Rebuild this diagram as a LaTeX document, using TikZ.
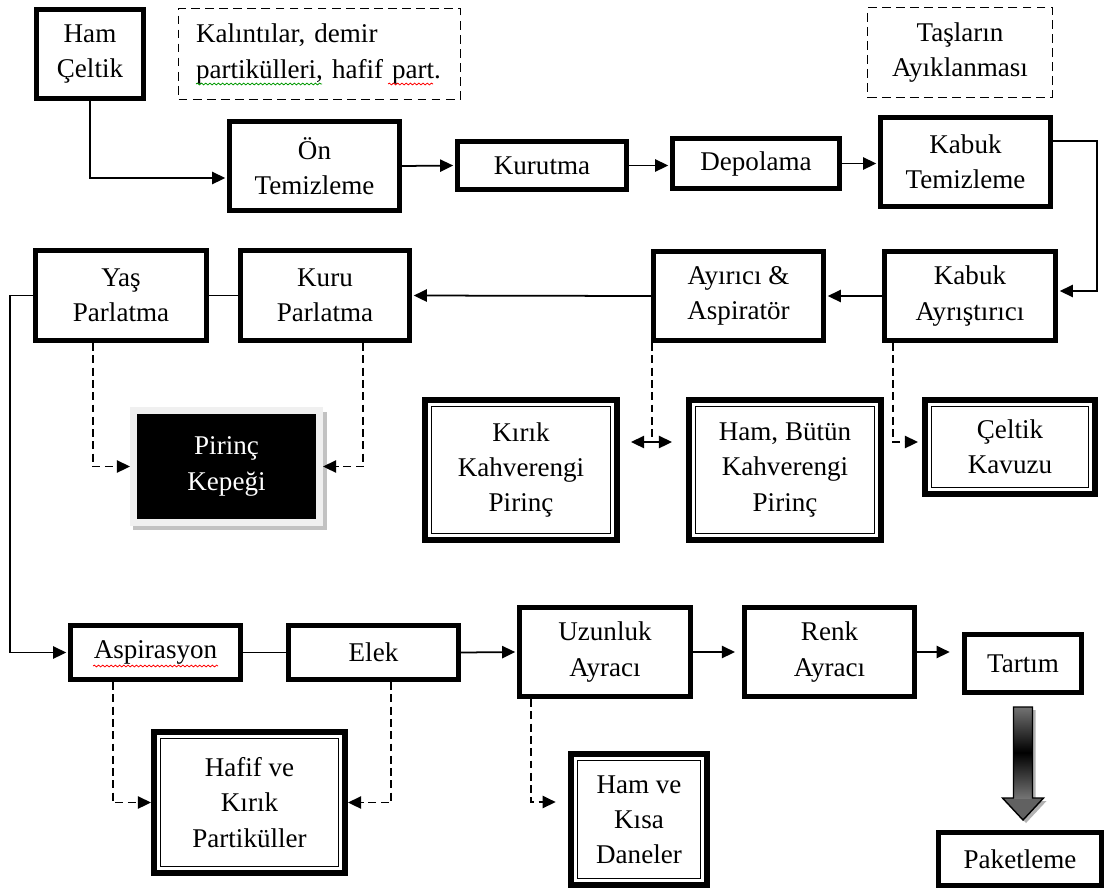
\documentclass[tikz,border=0pt]{standalone}
\usepackage{fontspec}
\setmainfont{Liberation Serif}
\usetikzlibrary{arrows.meta,calc,decorations.pathmorphing,backgrounds}

% body text size of the flow chart
\newcommand\fs{\fontsize{15.4}{20}\selectfont}

% \flowbox[line width]{name}{x1}{y1}{x2}{y2}{style}{text}
% places a node whose outer border edges are at the given pixel corners
\newcommand\flowbox[8][3pt]{%
  \node[#7, minimum width={(#5-#3)*0.02cm-#1}, minimum height={(#6-#4)*0.02cm-#1}]
    (#2) at ({(#3+#5)/2},{(#4+#6)/2}) {#8};}

\tikzset{
  base/.style={draw, inner sep=0pt, align=center, font=\fs},
  sbox/.style={base, line width=3pt},
  dbox/.style={base, line width=3.4pt},
  nbox/.style={draw, dash pattern=on 5pt off 3pt, line width=0.8pt, inner sep=0pt, font=\fs},
  tip/.style={-{Triangle[length=7.5pt,width=7pt]}},
  link/.style={line width=1pt},
  conn/.style={link, tip, shorten >=1pt},
  dline/.style={link, dash pattern=on 4.5pt off 2.5pt},
  dconn/.style={dline, tip},
  squig/.style={decorate, decoration={snake, amplitude=0.5pt, segment length=2.4pt}, line width=0.45pt},
}

\begin{document}
\begin{tikzpicture}[x=0.02cm, y=-0.02cm]
\useasboundingbox (0,0) rectangle (1108,890);

% ---- first row ----
\flowbox{hamc}{34}{7}{146}{101}{sbox}{Ham\\Çeltik}
\flowbox[0.8pt]{kal}{178}{8}{461}{100}{nbox, align=left, text width={(461-178-36)*0.02cm}}{Kalıntılar, demir\\partikülleri, hafif part.}
\flowbox[0.8pt]{tas}{867}{7}{1053}{98}{nbox, align=center}{Taşların\\Ayıklanması}
\flowbox{onT}{227}{119}{402}{213}{sbox}{Ön\\Temizleme}
\flowbox{kur}{455}{139}{629}{192}{sbox}{Kurutma}
\flowbox{dep}{670}{136}{842}{191}{sbox}{Depolama}
\flowbox{kt}{878}{115}{1053}{209}{sbox}{Kabuk\\Temizleme}

% ---- second row ----
\flowbox{yp}{33}{248}{209}{343}{sbox}{Yaş\\Parlatma}
\flowbox{kp}{238}{248}{412}{343}{sbox}{Kuru\\Parlatma}
\flowbox{ay}{651}{249}{826}{343}{sbox}{Ayırıcı \&\\Aspiratör}
\flowbox{ka}{882}{249}{1058}{343}{sbox}{Kabuk\\Ayrıştırıcı}

% ---- by-products of the second row ----
\flowbox[4pt]{pk}{130}{407}{323}{526}{base, fill=black, draw=black!6, line width=4pt, text=white}{Pirinç\\Kepeği}
\flowbox[3.4pt]{kirik}{422}{397}{620}{543}{dbox}{Kırık\\Kahverengi\\Pirinç}
\flowbox[3.4pt]{hb}{686}{397}{884}{543}{dbox}{Ham, Bütün\\Kahverengi\\Pirinç}
\flowbox[3.4pt]{ck}{922}{397}{1098}{497}{dbox}{Çeltik\\Kavuzu}

% ---- third row ----
\flowbox{asp}{68}{623}{243}{682}{sbox}{Aspirasyon}
\flowbox{elek}{286}{623}{461}{682}{sbox}{Elek}
\flowbox{uz}{517}{605}{693}{699}{sbox}{Uzunluk\\Ayracı}
\flowbox{renk}{742}{605}{917}{699}{sbox}{Renk\\Ayracı}
\flowbox{tar}{962}{632}{1084}{695}{sbox}{Tartım}

% ---- by-products of the third row ----
\flowbox[3.4pt]{hafif}{151}{729}{348}{876}{dbox}{Hafif ve\\Kırık\\Partiküller}
\flowbox[3.4pt]{hk}{568}{751}{710}{888}{dbox}{Ham ve\\Kısa\\Daneler}
\flowbox{pak}{936}{830}{1104}{888}{sbox}{Paketleme}

% inner thin rule of the double-framed boxes
\foreach \n in {kirik,hb,ck,hafif,hk}
  \draw[line width=0.75pt] ($(\n.north west)+(9.5,9.5)$) rectangle ($(\n.south east)+(-9.5,-9.5)$);

% white page and the shadow under the bran box
\begin{scope}[on background layer]
  \fill[white] (0,0) rectangle (1108,890);
  \fill[black!24] ($(pk.north west)+(3,5)$) rectangle ($(pk.south east)+(4,4)$);
\end{scope}

% spell-check marks under some words
\draw[squig, green!60!black] (196,84) -- (322,84);
\draw[squig, red] (388,84) -- (433,84);
\draw[squig, red] (93,666) -- (218,666);

% helper positions for the routed lines
\coordinate (xr) at (1097,0);
\coordinate (xl) at (10,0);
\coordinate (xa) at (93,0);
\coordinate (xb) at (363,0);
\coordinate (xc) at (652,0);
\coordinate (xd) at (893,0);
\coordinate (xe) at (113,0);
\coordinate (xf) at (391,0);
\coordinate (xg) at (531,0);
\coordinate (ya) at (0,442);
\coordinate (yb) at (0,802);

% ---- main process flow ----
\draw[conn] (hamc.south) |- ($(onT.west)+(0,12)$);
\draw[conn] (onT.east) -- (kur.west);
\draw[conn] (kur.east) -- (kur.east -| dep.west);
\draw[conn] (dep.east) -- (dep.east -| kt.west);
\coordinate (ktout) at ($(kt.north east)!0.28!(kt.south east)$);
\draw[conn] (ktout) -- (ktout -| xr) |- ($(ka.east)+(0,-5)$);
\draw[conn] (ka.west) -- (ay.east);
\draw[conn] (ay.west) -- (kp.east);
\draw[link] (kp.west) -- (yp.east);
\draw[conn] (yp.west) -- (yp.west -| xl) |- (asp.west);
\draw[link] (asp.east) -- (elek.west);
\draw[conn] (elek.east) -- (uz.west);
\draw[conn, shorten >=4pt] (uz.east) -- (renk.west);
\draw[conn, shorten >=7pt] (renk.east) -- (renk.east -| tar.west);

% ---- side streams (dashed) ----
\draw[dconn] (yp.south -| xa) |- (pk.west);
\draw[dconn] (kp.south -| xb) |- (pk.east);
\draw[dline] (ay.south -| xc) -- (xc |- ya);
\draw[link, {Triangle[length=7.5pt,width=7pt]}-{Triangle[length=7.5pt,width=7pt]}]
  ($(kirik.east |- ya)+(11,0)$) -- ($(hb.west |- ya)+(-14,0)$);
\draw[dconn] (ka.south -| xd) -- (xd |- ya) -- ($(ck.west |- ya)+(-4,0)$);
\draw[dconn] (asp.south -| xe) |- (hafif.west);
\draw[dconn] (elek.south -| xf) |- (hafif.east);
\draw[dconn, shorten >=7pt] (uz.south -| xg) -- (xg |- yb) -- (hk.west |- yb);

% ---- shaded block arrow from weighing to packing ----
\coordinate (ga) at ($(tar.south)+(0,12)$);
\begin{scope}[shift={(ga)}]
  \fill[black!30] (-6.5,3) -- (12.5,3) -- (12.5,94) -- (23.5,94) -- (3,116) -- (-17.5,94) -- (-6.5,94) -- cycle;
  \fill[black!62] (-20.5,91) -- (20.5,91) -- (0,113) -- cycle;
  \shade[top color=black!55, bottom color=black!55, middle color=black] (-9.5,0) rectangle (9.5,91);
  \draw[line width=0.8pt, line join=miter]
    (-9.5,0) -- (9.5,0) -- (9.5,91) -- (20.5,91) -- (0,113) -- (-20.5,91) -- (-9.5,91) -- cycle;
\end{scope}
\end{tikzpicture}
\end{document}
